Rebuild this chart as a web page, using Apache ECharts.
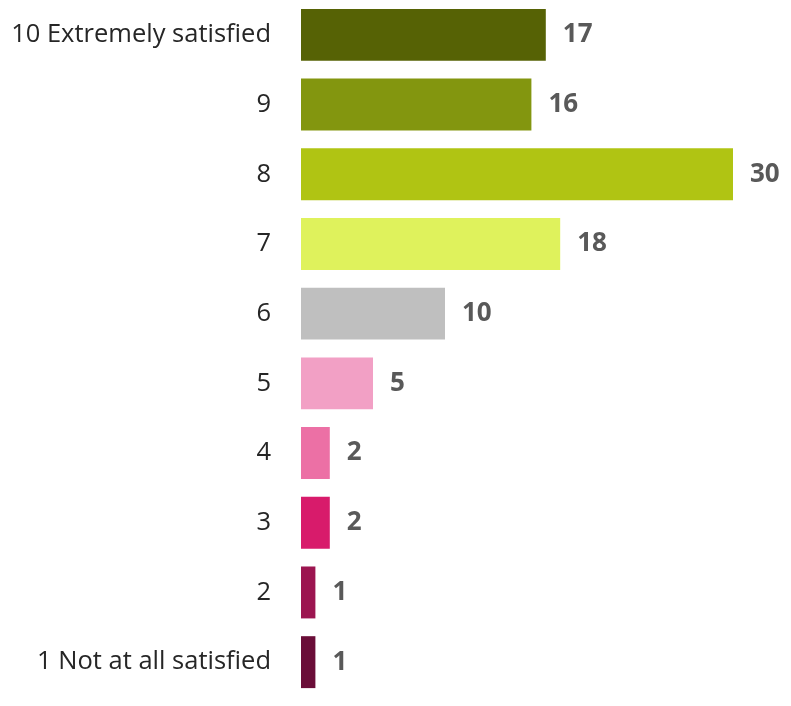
<!DOCTYPE html>
<html>
<head>
<meta charset="utf-8">
<script src="https://cdn.jsdelivr.net/npm/echarts@6/dist/echarts.min.js"></script>
<style>
  html, body { margin: 0; padding: 0; background: #fff; }
  #chart { width: 791px; height: 706px; }
</style>
</head>
<body>
<div id="chart"></div>
<script>
// top to bottom
const categories = [
  "10 Extremely satisfied", "9", "8", "7", "6", "5", "4", "3", "2", "1 Not at all satisfied"
];
const values = [17, 16, 30, 18, 10, 5, 2, 2, 1, 1];
const barColors = [
  "#566205", "#83960f", "#b0c413", "#dff25c", "#bfbfbf",
  "#f2a0c5", "#ec70a5", "#d81b6b", "#9c1550", "#6a0d38"
];

const chart = echarts.init(document.getElementById("chart"));

chart.setOption({
  animation: false,
  grid: {
    left: 301,
    right: 58,
    top: -1,
    bottom: 9,
    containLabel: false,
  },
  xAxis: {
    type: "value",
    min: 0,
    max: 30,
    show: false,
  },
  yAxis: {
    type: "category",
    data: categories,
    inverse: true,
    axisLine: { show: false },
    axisTick: { show: false },
    axisLabel: {
      margin: 30,
      color: "#262626",
      fontFamily: "Open Sans",
      fontSize: 25.5,
    },
  },
  series: [
    {
      type: "bar",
      barCategoryGap: "25.5%",
      data: values.map((v, i) => ({
        value: v,
        itemStyle: { color: barColors[i] },
      })),
      label: {
        show: true,
        position: "right",
        distance: 17,
        color: "#595959",
        fontFamily: "Open Sans",
        fontWeight: "bold",
        fontSize: 26,
      },
    },
  ],
});
</script>
</body>
</html>
